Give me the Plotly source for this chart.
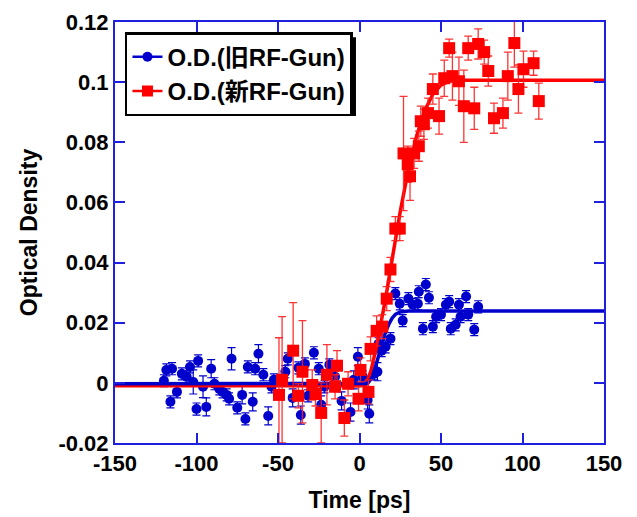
import plotly.graph_objects as go

# ---- data ----
old_t = [-120, -118.5, -116, -115, -112, -109, -106, -104, -102, -100, -99, -96, -94, -91, -89, -86,
         -84, -81.5, -80, -78.5, -75, -72, -70, -68.5, -65.5, -64, -62, -59, -56, -54, -52.5,
         -45.5, -44, -41, -37.5, -36, -33.5, -31.5, -28, -25, -23.5, -21.5, -18.5, -15, -11,
         -5.5, -3.5, -1, 2, 5, 6, 9, 11, 11.7, 13.6, 16, 19, 22, 24.7, 26.5, 30, 32.7, 35.8,
         36.4, 38.9, 40.7, 42.6, 45, 47, 50, 53, 55, 56, 59, 61, 62, 65.4, 66.7, 70.4, 72.8]
old_od = [0.0007, 0.0043, -0.0063, 0.0047, -0.003, 0.003, 0.002, 0.0053, 0.0003, -0.0087, 0.0073,
          -0.0013, -0.008, 0.0047, -0.0003, -0.002, -0.003, -0.004, -0.0053, 0.008, -0.0083, -0.004,
          -0.012, 0.0053, -0.0063, 0.0047, 0.0097, 0.0027, -0.011, -0.0013, 0.001,
          0.0037, 0.008, -0.005, 0.005, -0.0107, 0.0063, -0.0043, 0.010, 0.0047, -0.0073, -0.0013,
          0.006, 0.002, -0.006, -0.0097, 0.001, 0.0087, 0.002, -0.0057, -0.0103, 0.003, 0.0037,
          0.013, 0.0107, 0.012, 0.0147, 0.0297, 0.0263, 0.0207, 0.028, 0.026, 0.0263, 0.0303,
          0.018, 0.0327, 0.0283, 0.0187, 0.022, 0.0227, 0.026, 0.027, 0.018, 0.0193, 0.026,
          0.022, 0.0287, 0.0227, 0.0177, 0.0253]
old_err = [0.002, 0.002, 0.002, 0.002, 0.002, 0.002, 0.002, 0.002, 0.004, 0.002, 0.002,
           0.0036, 0.003, 0.003, 0.002, 0.002, 0.002, 0.002, 0.002, 0.0037, 0.002, 0.003,
           0.002, 0.002, 0.003, 0.002, 0.003, 0.002, 0.003, 0.002, 0.002,
           0.002, 0.002, 0.003, 0.002, 0.003, 0.002, 0.002, 0.002, 0.002, 0.003, 0.002,
           0.002, 0.002, 0.003, 0.003, 0.003, 0.003, 0.002, 0.003, 0.003, 0.002, 0.003,
           0.002, 0.002, 0.002, 0.002, 0.002, 0.002, 0.002, 0.002, 0.002, 0.002, 0.002,
           0.002, 0.002, 0.002, 0.002, 0.002, 0.002, 0.002, 0.002, 0.002, 0.002, 0.002,
           0.002, 0.002, 0.002, 0.002, 0.002]

new_t = [-49.4, -47.5, -40.7, -37.5, -35, -29, -27, -23.5, -20, -15, -13.8, -9.3, -7, -0.6, 0.6,
         5.5, 6.8, 10.5, 14, 16.7, 19, 22, 24.7, 27, 29.6, 31, 33.5, 36.4, 37.6, 39.5, 42, 45,
         48.8, 52, 55, 57, 61, 64, 66.7, 70.4, 72.8, 76.5, 79, 82.5, 88, 91, 95, 97.5, 100.6,
         106.8, 110]
new_od = [-0.004, 0.001, 0.0107, -0.0043, 0.0037, -0.0007, -0.0037, -0.010, 0.0027, -0.0013,
          0.0057, -0.0117, -0.0003, -0.0053, 0.0043, -0.003, 0.0113, 0.0173, 0.0187, 0.028,
          0.0377, 0.0513, 0.0513, 0.0763, 0.0727, 0.0687, 0.0763, 0.0787, 0.087, 0.086, 0.0897,
          0.0977, 0.0887, 0.1013, 0.1113, 0.102, 0.1003, 0.092, 0.1113, 0.0913, 0.1127, 0.110,
          0.1037, 0.088, 0.0897, 0.102, 0.113, 0.0977, 0.1043, 0.1063, 0.0937]
new_err = [0.019, 0.021, 0.016, 0.004, 0.017, 0.005, 0.004, 0.010, 0.010, 0.004,
           0.005, 0.006, 0.004, 0.004, 0.004, 0.004, 0.004, 0.005, 0.004, 0.004,
           0.004, 0.004, 0.004, 0.019, 0.006, 0.008, 0.005, 0.005, 0.005, 0.005, 0.005,
           0.005, 0.006, 0.006, 0.003, 0.008, 0.008, 0.012, 0.004, 0.007, 0.005, 0.004,
           0.005, 0.005, 0.005, 0.008, 0.008, 0.008, 0.006, 0.004, 0.006]

# fitted curves
old_fit_t = [-150, 0, 5, 8, 10, 12, 14, 16, 18, 20, 22, 25, 30, 150]
old_fit_od = [-0.0003, -0.0003, -0.0002, 0.002, 0.006, 0.010, 0.014, 0.017, 0.0195, 0.0215,
              0.0228, 0.0236, 0.0239, 0.0239]
new_fit_t = [-150, 0, 4, 7, 10, 13, 16, 20, 25, 30, 35, 40, 45, 50, 55, 60, 150]
new_fit_od = [-0.001, -0.001, -0.0005, 0.004, 0.011, 0.019, 0.028, 0.041, 0.057, 0.071, 0.082,
              0.0905, 0.096, 0.099, 0.1003, 0.1006, 0.1006]

x_ticks = [-150, -100, -50, 0, 50, 100, 150]
x_ticktext = ["-150", "-100", "-50", "0", "50", "100", "150"]
y_ticks = [-0.02, 0, 0.02, 0.04, 0.06, 0.08, 0.1, 0.12]
y_ticktext = ["-0.02", "0", "0.02", "0.04", "0.06", "0.08", "0.1", "0.12"]

name_old = "O.D.(旧RF-Gun)"
name_new = "O.D.(新RF-Gun)"

BLUE = "#0000CC"
RED = "#FF0000"
AXIS = "#1F1FE0"
FONT = "Liberation Sans, Arial, Noto Sans CJK JP, sans-serif"

fig = go.Figure()

fig.add_trace(go.Scatter(
    x=old_t, y=old_od, mode="markers", showlegend=False,
    marker=dict(symbol="circle", size=10, color=BLUE),
    error_y=dict(type="data", array=old_err, color=BLUE, thickness=1.2, width=4),
))
fig.add_trace(go.Scatter(
    x=new_fit_t, y=new_fit_od, mode="lines", showlegend=False,
    line=dict(color=RED, width=3.5),
))
fig.add_trace(go.Scatter(
    x=old_fit_t, y=old_fit_od, mode="lines", showlegend=False,
    line=dict(color=BLUE, width=3.5),
))
fig.add_trace(go.Scatter(
    x=new_t, y=new_od, mode="markers", showlegend=False,
    marker=dict(symbol="square", size=12, color=RED),
    error_y=dict(type="data", array=new_err, color="rgba(255,30,30,0.9)", thickness=1.3, width=4),
))
# legend entries
fig.add_trace(go.Scatter(
    x=[None], y=[None], mode="lines+markers", name=name_old,
    line=dict(color=BLUE, width=2.5), marker=dict(symbol="circle", size=10, color=BLUE),
))
fig.add_trace(go.Scatter(
    x=[None], y=[None], mode="lines+markers", name=name_new,
    line=dict(color=RED, width=2.5), marker=dict(symbol="square", size=11, color=RED),
))

axis_common = dict(
    showline=True, linecolor=AXIS, linewidth=2, mirror="ticks",
    ticks="inside", ticklen=10, tickwidth=1.5, tickcolor=AXIS,
    showgrid=False, zeroline=False, automargin=False,
    tickfont=dict(family=FONT, size=22, color="black", weight="bold"),
)

# page body has an 8px default margin, so the figure is sized/offset to compensate
fig.update_layout(
    width=629, height=509,
    margin=dict(l=107, r=33, t=14, b=74),
    paper_bgcolor="white", plot_bgcolor="white",
    font=dict(family=FONT, color="black"),
    xaxis=dict(range=[-150, 150], tickvals=x_ticks, ticktext=x_ticktext,
               title=dict(text="<b>Time [ps]</b>", font=dict(family=FONT, size=23), standoff=16),
               **axis_common),
    yaxis=dict(range=[-0.02, 0.12], tickvals=y_ticks, ticktext=y_ticktext,
               title=dict(text="<b>Optical Density</b>", font=dict(family=FONT, size=23), standoff=14),
               **axis_common),
    legend=dict(
        x=0.0204, y=0.976, xanchor="left", yanchor="top",
        bgcolor="white", bordercolor="black", borderwidth=2.5,
        font=dict(family=FONT, size=24, weight="bold"),
        itemsizing="trace", tracegroupgap=0,
    ),
    shapes=[dict(  # drop shadow behind the legend box
        type="rect", xref="paper", yref="paper",
        x0=0.0286, x1=0.4928, y0=0.7767, y1=0.964,
        fillcolor="black", line=dict(width=0), layer="above",
    )],
)

fig.write_html("out.html")
